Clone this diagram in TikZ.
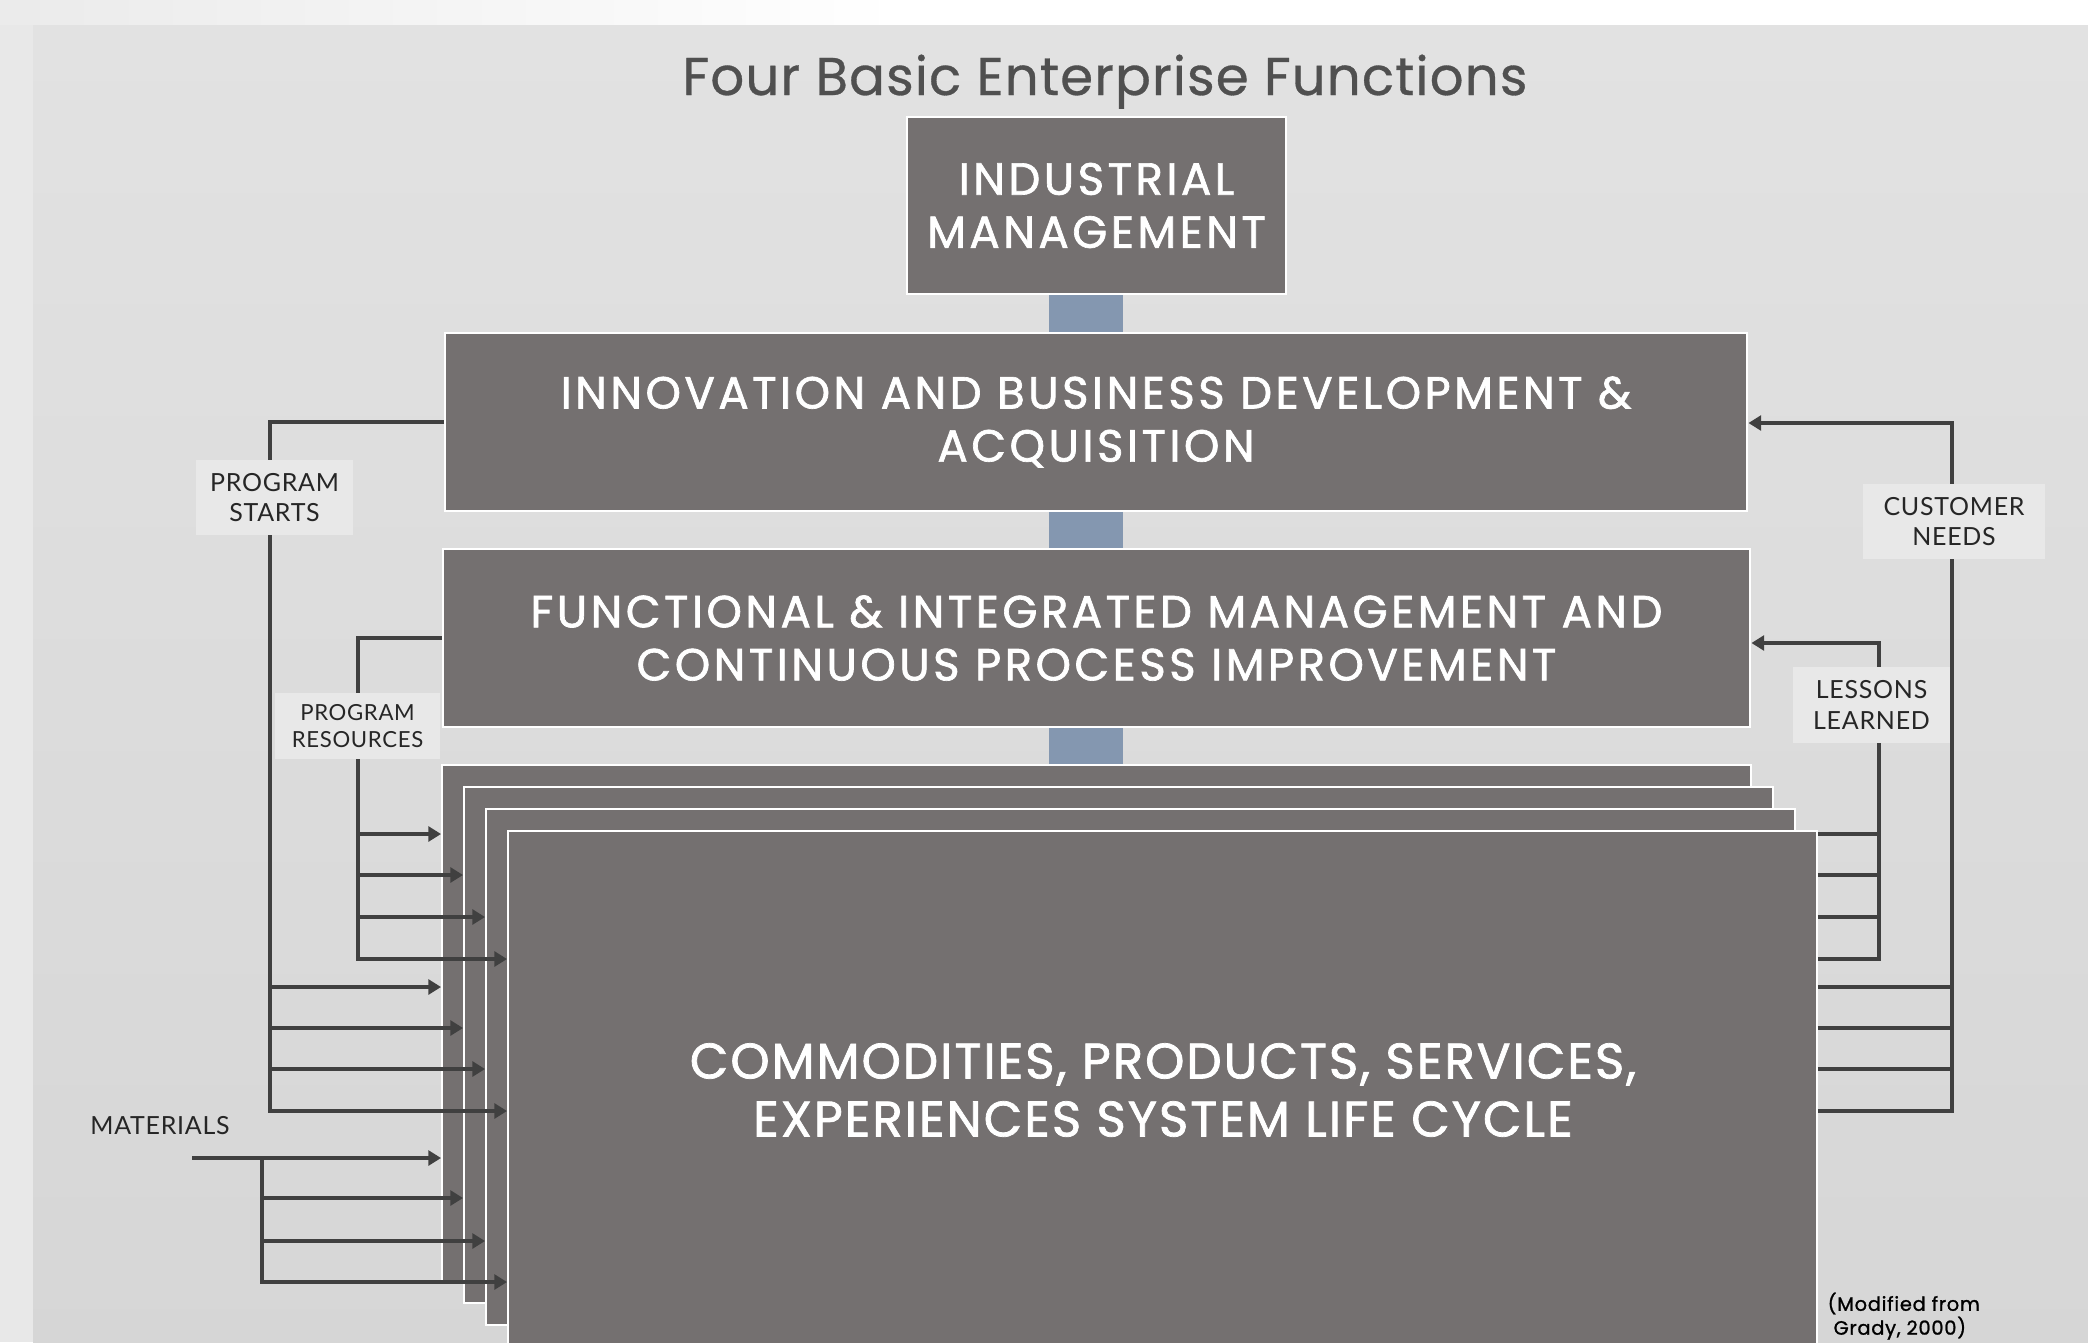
\documentclass[tikz,border=0pt]{standalone}
\usepackage{fontspec}
\setmainfont{Poppins}
\newfontfamily\labelfont{Lato}[LetterSpace=3]
\newfontfamily\boxfont{Poppins}[FakeBold=1.5, LetterSpace=7.8]
\newfontfamily\bigfont{Poppins}[FakeBold=1.5, LetterSpace=4]
\newfontfamily\titlefont{Poppins}[FakeBold=0.6, LetterSpace=2]
\newfontfamily\notefont{Poppins}[FakeBold=1.2, LetterSpace=4]
\usetikzlibrary{arrows.meta}
\definecolor{boxgray}{HTML}{747070}
\definecolor{connblue}{HTML}{8497B0}
\definecolor{linegray}{HTML}{404040}
\definecolor{panelgray}{HTML}{E2E2E2}
\definecolor{tagbg}{HTML}{E8E8E8}
\definecolor{titlegray}{HTML}{505050}
\tikzset{
  stage/.style={draw=white, line width=0.6pt, fill=boxgray, text=white, align=center, inner sep=0pt, font=\boxfont\fontsize{12.8}{15.1}\selectfont},
  link/.style={fill=connblue},
  flow/.style={draw=linegray, line width=1.15pt},
  into/.style={flow, -{Triangle[length=3.6pt,width=4.2pt]}},
  tag/.style={fill=tagbg, align=center, inner sep=0pt, text=black!85, font=\labelfont\fontsize{7.1}{8.6}\selectfont}
}

\begin{document}
\begin{tikzpicture}[x=0.01cm,y=-0.01cm]
\useasboundingbox (0,0) rectangle (2088,1342);
\fill[white] (0,0) rectangle (2088,1342);
\shade[left color=black!8, right color=white] (0,0) rectangle (900,25);
\fill[black!9] (0,25) rectangle (33,1342);
\shade[top color=panelgray, bottom color=black!16] (33,25) rectangle (2088,1342);

\node[anchor=base, text=titlegray, font=\titlefont\fontsize{15.1}{18}\selectfont] (title) at (1105,95) {Four Basic Enterprise Functions};

\node[stage, minimum width=3.79cm, minimum height=1.77cm] (im) at (1096.5,205.5) {INDUSTRIAL\\MANAGEMENT};
\node[stage, minimum width=13.02cm, minimum height=1.78cm] (inno) at (1096,422) {INNOVATION AND BUSINESS DEVELOPMENT \&\\ACQUISITION};
\node[stage, minimum width=13.07cm, minimum height=1.78cm] (func) at (1096.5,638) {FUNCTIONAL \& INTEGRATED MANAGEMENT AND\\CONTINUOUS PROCESS IMPROVEMENT};

\foreach \i in {1,...,4}
  \node[stage, minimum width=13.08cm, minimum height=5.16cm] (life\i) at ({1096.5+22*(\i-1)},{1023+22*(\i-1)}) {};
\node[text=white, align=center, font=\bigfont\fontsize{14.2}{16.5}\selectfont] (lc) at (1163,1090) {COMMODITIES, PRODUCTS, SERVICES,\\EXPERIENCES SYSTEM LIFE CYCLE};

\fill[link] (1049,0 |- im.south) rectangle (1123,0 |- inno.north);
\fill[link] (1049,0 |- inno.south) rectangle (1123,0 |- func.north);
\fill[link] (1049,0 |- func.south) rectangle (1123,0 |- life1.north);

\draw[into] (inno.west) -- (270,422) -- (270,1111) -- (life4.west |- 0,1111);
\foreach \i/\y in {1/987,2/1028,3/1069}
  \draw[into] (270,\y) -- (life\i.west |- 0,\y);
\draw[into] (func.west) -- (358,638) -- (358,959) -- (life4.west |- 0,959);
\foreach \i/\y in {1/834,2/875,3/917}
  \draw[into] (358,\y) -- (life\i.west |- 0,\y);

\node[text=black!85, font=\labelfont\fontsize{7.1}{8.6}\selectfont] (mat) at (160,1126) {MATERIALS};
\draw[into] (192,1158) -- (life1.west |- 0,1158);
\draw[into] (262,1158) -- (262,1282) -- (life4.west |- 0,1282);
\foreach \i/\y in {2/1198,3/1241}
  \draw[into] (262,\y) -- (life\i.west |- 0,\y);

\draw[into] (life4.east |- 0,1111) -- (1952,1111) -- (1952,423) -- (inno.east |- 0,423);
\foreach \y in {987,1028,1069}
  \draw[flow] (life4.east |- 0,\y) -- (1952,\y);
\draw[into] (life4.east |- 0,959) -- (1879,959) -- (1879,643) -- (func.east |- 0,643);
\foreach \y in {834,875,917}
  \draw[flow] (life4.east |- 0,\y) -- (1879,\y);

\node[tag, minimum width=1.57cm, minimum height=0.75cm] (starts) at (274.5,497.5) {PROGRAM\\STARTS};
\node[tag, minimum width=1.65cm, minimum height=0.66cm, font=\labelfont\fontsize{6.3}{7.6}\selectfont] (res) at (357.5,726) {PROGRAM\\RESOURCES};
\node[tag, minimum width=1.82cm, minimum height=0.75cm] (cust) at (1954,521.5) {CUSTOMER\\NEEDS};
\node[tag, minimum width=1.57cm, minimum height=0.76cm] (less) at (1871.5,705) {LESSONS\\LEARNED};

\node[anchor=north west, align=left, inner sep=0pt, font=\notefont\fontsize{5.5}{6.8}\selectfont] (src) at (1827,1292) {(Modified from\\\ Grady, 2000)};
\end{tikzpicture}
\end{document}
